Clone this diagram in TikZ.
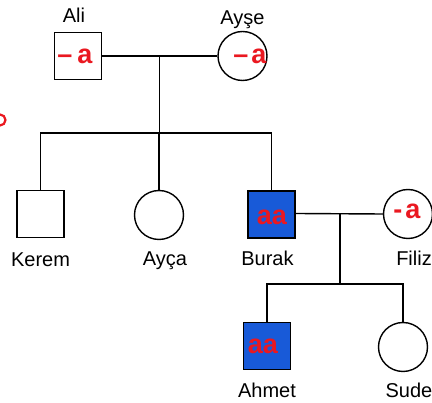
\documentclass[tikz,border=0pt]{standalone}
\usepackage{fontspec}
\setmainfont{Liberation Sans}
\usepackage{tikz}
\usetikzlibrary{calc}

\definecolor{pedblue}{RGB}{24,90,216}
\definecolor{pedred}{RGB}{234,24,32}

\tikzset{
	person/.style={draw, line width=1.4pt, inner sep=0pt},
	male/.style={person, rectangle, minimum size=47pt},
	female/.style={person, circle, minimum size=49pt},
	sick/.style={fill=pedblue},
	pname/.style={font=\fontsize{20}{20}\selectfont, text height=14.3pt, text depth=4pt, inner sep=0pt},
	allele/.style={text=pedred, font=\fontsize{27}{27}\bfseries\selectfont, inner sep=0pt},
	link/.style={line width=1.4pt}
}

\begin{document}
\begin{tikzpicture}[x=1pt, y=-1pt]
		\useasboundingbox (0,0) rectangle (432,403);

		% people
		\foreach \n/\px/\py/\f in {
				ali/78/56/white,
				kerem/40.5/214/white,
				burak/271.5/214.5/pedblue,
				ahmet/267/346/pedblue}{
		\node[male, fill=\f] (\n) at (\px,\py) {};
		}
		\foreach \n/\px/\py in {
				ayse/242.5/56,
				ayca/159/215,
				filiz/408/214,
				sude/403/347}{
		\node[female] (\n) at (\px,\py) {};
		}

		% names
		\node[pname, anchor=base] (aliL) at ([xshift=-4pt, yshift=9pt]ali.north) {Ali};
		\node[pname, anchor=base] (ayseL) at ([yshift=6pt]ayse.north) {Ayşe};
		\node[pname, anchor=north] (keremL) at ([yshift=-13.5pt]kerem.south) {Kerem};
		\node[pname, anchor=north] (aycaL) at ([xshift=6pt, yshift=-11pt]ayca.south) {Ayça};
		\node[pname, anchor=north] (burakL) at ([xshift=-4pt, yshift=-12.5pt]burak.south) {Burak};
		\node[pname, anchor=north east] (filizL) at ([yshift=-12pt]432,239) {Filiz};
		\node[pname, anchor=north] (ahmetL) at ([yshift=-12.5pt]ahmet.south) {Ahmet};
		\node[pname, anchor=north] (sudeL) at ([xshift=6pt, yshift=-10.5pt]sude.south) {Sude};

		% lines
		\coordinate (m1) at ($(ali.east)!0.5!(ayse.west)$);
		\coordinate (s1) at (m1 |- 0,133);
		\coordinate (m2) at (340,213.5);
		\coordinate (s2) at (m2 |- 0,284);
		\draw[link] (ali) -- (ayse);
		\draw[link] (m1) -- (s1);
		\draw[link] (kerem.north) |- (s1) -| (burak.north);
		\draw[link] (ayca.north) -- (ayca.north |- s1);
		\draw[link] (burak.east |- m2) -- (filiz.west);
		\draw[link] (m2) -- (s2);
		\draw[link] (ahmet.north) |- (s2) -| (sude.north);

		% red notes
		\node[allele] (aliA) at (75,56) {--\hspace{5pt}a};
		\node[allele] (ayseA) at (250,56) {--\hspace{3pt}a};
		\node[allele] (burakA) at (272,217) {aa};
		\node[allele] (filizA) at (407,211) {-\hspace{3pt}a};
		\node[allele] (ahmetA) at (263,346) {aa};
		\draw[pedred, line width=2.2pt] (0,120) circle (5.5);
\end{tikzpicture}
\end{document}
